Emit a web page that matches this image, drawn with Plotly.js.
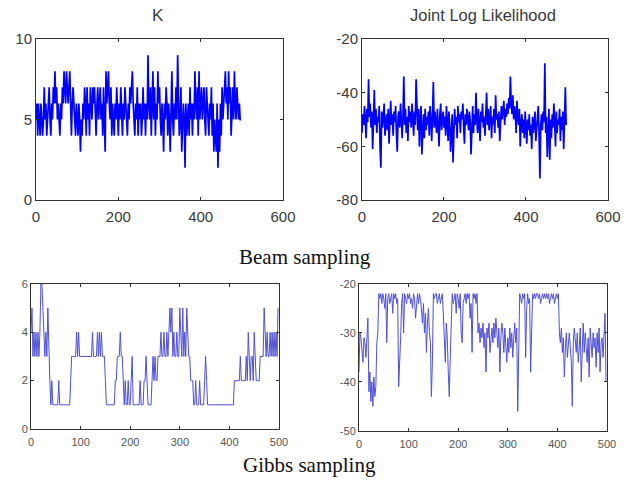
<!DOCTYPE html>
<html>
<head>
<meta charset="utf-8">
<script src="https://cdn.plot.ly/plotly-3.0.1.min.js"></script>
<style>html,body{margin:0;padding:0;background:#fff;}#chart{width:631px;height:482px;}</style>
</head>
<body>
<div id="chart"></div>
<script>
// Beam sampling: number of states K (every 2nd iteration)
const beamK = [
5,6,4,6,5,4,6,5,4,5, 7,5,6,4,5,6,7,5,4,6, 5,7,6,8,6,7,5,6,5,4, 6,5,7,6,8,7,6,8,7,6,
7,8,6,4,6,7,6,5,4,6, 5,4,6,5,3,5,4,6,5,7, 6,4,7,5,6,4,7,6,5,7, 6,7,5,4,6,7,5,6,7,5,
6,4,7,5,3,8,6,7,8,6, 5,7,4,6,5,4,6,5,7,5, 4,6,5,7,5,4,6,5,7,6, 5,4,6,5,7,6,7,8,6,5,
4,6,5,7,4,6,5,6,4,5, 7,5,6,4,6,5,9,6,5,7, 4,6,8,5,7,4,6,5,8,6, 7,5,4,6,5,3,6,5,7,6,
4,6,5,3,6,8,5,4,6,5, 7,5,9,6,4,5,7,3,5,6, 5,2,6,4,5,6,4,7,5,6, 4,6,5,8,6,5,7,4,8,5,
6,7,5,6,7,5,4,7,6,5, 4,6,5,7,4,6,3,5,4,3, 6,2,5,3,6,4,7,5,6,7, 8,6,7,5,8,6,7,4,6,7,
5,8,6,5,7,6,5,6,5,5
];
// Beam sampling: joint log likelihood
const beamLL = [
-55,-48,-52,-45,-50,-57,-46,-51,-35,-49, -44,-53,-47,-61,-50,-39,-52,-46,-55,-49,
-51,-45,-60,-68,-47,-53,-49,-44,-56,-50, -48,-54,-46,-59,-50,-43,-52,-48,-56,-47,
-51,-45,-55,-62,-49,-47,-53,-44,-50,-57, -48,-34,-52,-46,-55,-49,-58,-45,-51,-47,
-53,-44,-50,-56,-47,-52,-35,-49,-54,-46, -60,-50,-45,-63,-52,-48,-57,-46,-54,-49,
-52,-47,-56,-45,-50,-58,-48,-36,-53,-47, -51,-55,-46,-52,-60,-48,-44,-54,-50,-47,
-53,-49,-56,-45,-51,-58,-47,-52,-62,-50, -48,-66,-54,-46,-52,-49,-57,-45,-51,-48,
-55,-47,-50,-44,-53,-59,-48,-52,-46,-50, -54,-47,-51,-63,-49,-45,-55,-48,-52,-40,
-50,-55,-46,-52,-58,-47,-51,-44,-53,-49, -56,-48,-40,-52,-46,-54,-50,-45,-57,-49,
-52,-46,-55,-41,-50,-48,-53,-47,-58,-51, -45,-50,-47,-43,-52,-46,-49,-44,-48,-42,
-46,-34,-44,-48,-41,-50,-45,-47,-55,-43, -49,-52,-46,-60,-51,-48,-55,-50,-57,-47,
-53,-59,-50,-54,-48,-56,-52,-61,-49,-55, -51,-47,-58,-53,-50,-45,-56,-72,-52,-48,
-54,-47,-51,-29,-55,-49,-64,-53,-46,-65, -50,-57,-48,-53,-44,-51,-60,-47,-55,-50,
-52,-46,-58,-49,-54,-47,-61,-50,-38,-52
];
// Gibbs sampling: number of states K
const gibbsK = [
4,5,3,4,3,4,3,4,3,4, 6,6,5,4,3,4,3,5,3,2, 1,2,1,1,1,1,1,1,2,1, 1,1,1,1,1,1,1,1,1,1,
2,3,3,3,3,3,4,3,4,3, 3,3,3,3,3,3,3,3,3,3, 3,3,4,3,3,3,3,4,3,4, 3,4,3,3,3,2,1,1,1,1,
1,1,1,1,1,2,2,3,3,3, 4,3,3,2,1,2,1,1,2,1, 1,2,3,1,1,1,1,1,1,1, 2,1,1,1,2,2,3,2,1,1,
1,1,2,3,2,3,2,2,3,3, 3,4,3,3,4,3,3,4,3,4, 5,4,5,3,4,3,3,4,3,3, 5,4,3,5,3,4,3,5,4,3,
3,2,2,2,1,1,2,1,1,1, 2,1,1,1,1,2,3,2,1,1, 1,1,1,1,1,1,1,1,1,1, 1,1,1,1,1,1,1,1,1,1,
1,1,1,1,1,2,2,2,2,2, 2,3,2,2,2,2,2,3,2,4, 3,2,3,3,2,4,3,2,2,2, 2,3,3,3,3,5,4,3,4,3,
3,4,3,4,3,4,3,4,3,5
];
// Gibbs sampling: joint log likelihood
const gibbsLL = [
-38,-30,-31,-33,-36,-31,-32,-35,-29,-27, -42,-38,-44,-40,-45,-39,-43,-41,-32,-30,
-22,-23,-22,-24,-22,-23,-25,-22,-32,-23, -22,-24,-23,-22,-26,-22,-23,-22,-24,-23,
-41,-33,-31,-24,-22,-30,-22,-23,-24,-22, -23,-22,-24,-23,-25,-22,-23,-27,-23,-22,
-24,-22,-23,-26,-28,-24,-30,-26,-34,-28, -25,-30,-32,-43,-36,-22,-23,-22,-22,-24,
-23,-22,-24,-23,-22,-26,-30,-36,-28,-31, -38,-43,-35,-27,-22,-24,-23,-22,-26,-22,
-23,-25,-22,-30,-32,-24,-23,-22,-24,-22, -23,-22,-27,-24,-34,-22,-23,-22,-24,-22,
-30,-28,-32,-29,-31,-28,-33,-30,-38,-29, -31,-28,-34,-30,-29,-32,-28,-31,-27,-30,
-33,-29,-38,-31,-28,-30,-34,-29,-32,-36, -31,-34,-29,-33,-30,-35,-31,-28,-32,-29,
-46,-30,-22,-23,-24,-22,-23,-22,-35,-25, -22,-24,-23,-38,-30,-22,-23,-22,-23,-22,
-22,-23,-22,-24,-23,-22,-23,-22,-23,-22, -23,-22,-24,-23,-22,-23,-22,-24,-23,-22,
-23,-22,-30,-32,-29,-34,-31,-39,-33,-30, -35,-31,-30,-33,-36,-45,-32,-29,-31,-34,
-30,-36,-33,-29,-40,-31,-28,-34,-30,-33, -36,-31,-39,-29,-32,-35,-30,-33,-31,-37,
-30,-34,-29,-38,-32,-31,-35,-28,-26,-40
];
const iterStep = 2;

const topTicksX = [0, 200, 400, 600];
const topTicksK = [0, 5, 10];
const topTicksLL = [-80, -60, -40, -20];
const botTicksX = [0, 100, 200, 300, 400, 500];
const botTicksK = [0, 2, 4, 6];
const botTicksLL = [-50, -40, -30, -20];

const iters = arr => arr.map((_, i) => i * iterStep);

const topFont = {family: 'Liberation Sans, Arial, sans-serif', size: 15, color: '#3a3a3a'};
const botFont = {family: 'Liberation Sans Narrow, Arial Narrow, Liberation Sans, sans-serif', size: 11, color: '#555'};

function axis(domain, range, tickvals, font, anchor, extra) {
  return Object.assign({
    domain: domain, range: range, tickvals: tickvals, ticktext: tickvals.map(String),
    anchor: anchor, showgrid: false, zeroline: false, showline: true, mirror: 'ticks',
    linecolor: '#333', linewidth: 1, ticks: 'inside', ticklen: 3, tickcolor: '#333',
    tickfont: font, fixedrange: true
  }, extra || {});
}

const data = [
  {x: iters(beamK), y: beamK, type: 'scatter', mode: 'lines', xaxis: 'x', yaxis: 'y',
   line: {color: '#0000ff', width: 1.7}},
  {x: iters(beamLL), y: beamLL, type: 'scatter', mode: 'lines', xaxis: 'x2', yaxis: 'y2',
   line: {color: '#0000ff', width: 1.7}},
  {x: iters(gibbsK), y: gibbsK, type: 'scatter', mode: 'lines', xaxis: 'x3', yaxis: 'y3',
   line: {color: 'rgb(80,80,215)', width: 1}},
  {x: iters(gibbsLL), y: gibbsLL, type: 'scatter', mode: 'lines', xaxis: 'x4', yaxis: 'y4',
   line: {color: 'rgb(80,80,215)', width: 1}}
];

const layout = {
  width: 631, height: 482, margin: {l: 0, r: 0, t: 0, b: 0},
  paper_bgcolor: '#fff', plot_bgcolor: '#fff', showlegend: false,
  xaxis: axis([0.0571, 0.4485], [0, 600], topTicksX, topFont, 'y', {ticklabelstandoff: 3}),
  yaxis: axis([0.585, 0.919], [0, 10], topTicksK, topFont, 'x'),
  xaxis2: axis([0.5737, 0.9635], [0, 600], topTicksX, topFont, 'y2', {ticklabelstandoff: 3}),
  yaxis2: axis([0.585, 0.919], [-80, -20], topTicksLL, topFont, 'x2'),
  xaxis3: axis([0.0491, 0.4422], [0, 500], botTicksX, botFont, 'y3', {ticklabelstandoff: 3}),
  yaxis3: axis([0.110, 0.411], [0, 6], botTicksK, botFont, 'x3'),
  xaxis4: axis([0.5689, 0.962], [0, 500], botTicksX, botFont, 'y4', {ticklabelstandoff: 3}),
  yaxis4: axis([0.106, 0.411], [-50, -20], botTicksLL, botFont, 'x4'),
  annotations: [
    {text: 'K', x: 158/631, y: 1 - 16/482, xref: 'paper', yref: 'paper', showarrow: false,
     xanchor: 'center', yanchor: 'middle',
     font: {family: 'Liberation Sans, Arial, sans-serif', size: 17, color: '#3a3a3a'}},
    {text: 'Joint Log Likelihood', x: 483/631, y: 1 - 15/482, xref: 'paper', yref: 'paper', showarrow: false,
     xanchor: 'center', yanchor: 'middle',
     font: {family: 'Liberation Sans, Arial, sans-serif', size: 16.5, color: '#3a3a3a'}},
    {text: 'Beam sampling', x: 305/631, y: 1 - 257/482, xref: 'paper', yref: 'paper', showarrow: false,
     xanchor: 'center', yanchor: 'middle',
     font: {family: 'Liberation Serif, Times New Roman, serif', size: 21, color: '#111'}},
    {text: 'Gibbs sampling', x: 309/631, y: 1 - 465/482, xref: 'paper', yref: 'paper', showarrow: false,
     xanchor: 'center', yanchor: 'middle',
     font: {family: 'Liberation Serif, Times New Roman, serif', size: 21, color: '#111'}}
  ]
};

Plotly.newPlot('chart', data, layout, {staticPlot: true, displayModeBar: false});
</script>
</body>
</html>
